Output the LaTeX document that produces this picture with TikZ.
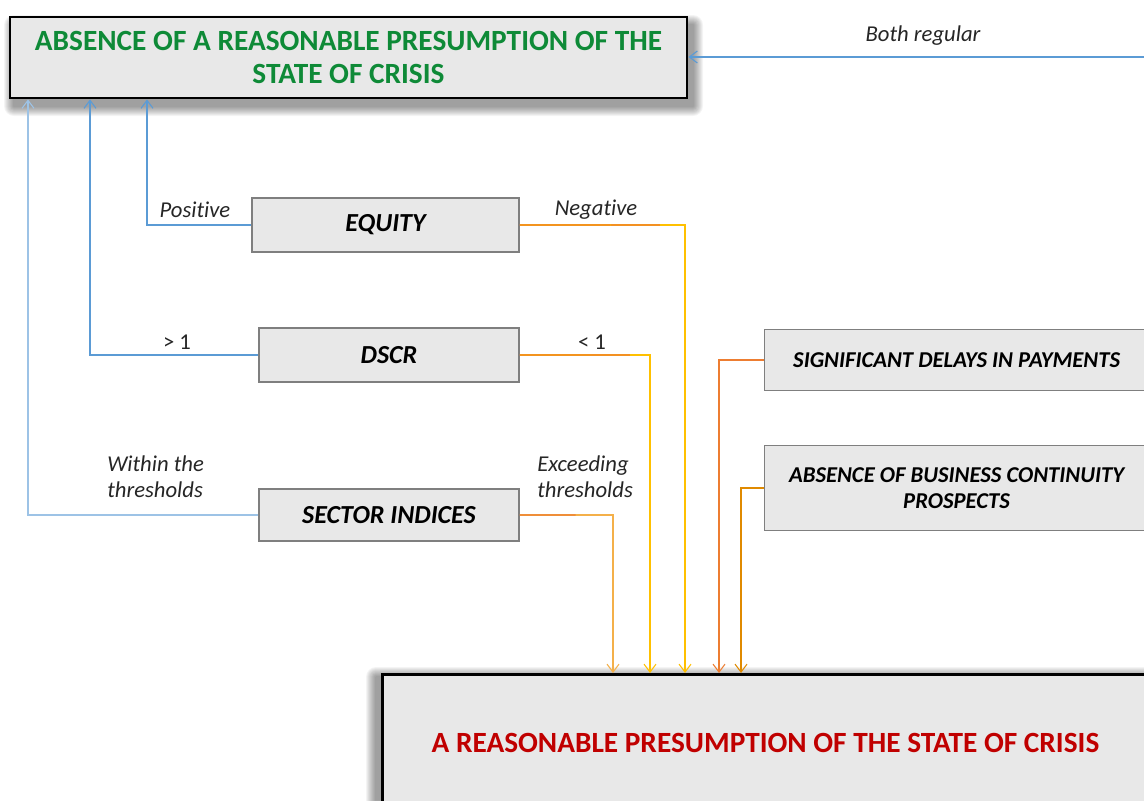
\documentclass[tikz,border=0pt]{standalone}
\usepackage{fontspec}
\setmainfont{Carlito}[Ligatures=NoCommon]
\usetikzlibrary{arrows.meta,calc}
\definecolor{boxfill}{HTML}{E8E8E8}
\definecolor{boxline}{HTML}{7F7F7F}
\definecolor{okgreen}{HTML}{0E8A37}
\definecolor{crisisred}{HTML}{C00000}
\definecolor{linkblue}{HTML}{5B9BD5}
\definecolor{linkpale}{HTML}{9DC3E6}
\definecolor{linkyellow}{HTML}{FFC000}
\definecolor{linklight}{HTML}{F4B04A}
\definecolor{linkorange}{HTML}{ED7D31}
\definecolor{linkdark}{HTML}{E08A00}
\definecolor{labeltext}{HTML}{262626}
\begin{document}
\begin{tikzpicture}[x=0.75pt,y=-0.75pt,
  bigbox/.style={draw=black,line width=2.2pt,fill=boxfill,inner sep=0pt,align=center},
  smallbox/.style={draw=boxline,line width=0.9pt,fill=boxfill,inner sep=0pt,align=center,
    font=\fontsize{19.5}{22}\selectfont\bfseries\itshape},
  sidebox/.style={smallbox,font=\fontsize{17}{20}\selectfont\bfseries\itshape},
  lab/.style={text=labeltext,font=\fontsize{17}{19.5}\selectfont\itshape,inner sep=0pt},
  labr/.style={text=labeltext,font=\fontsize{17}{19.5}\selectfont,inner sep=0pt},
  link/.style={line width=0.8pt,-{Straight Barb[length=6pt,width=9pt,line width=0.8pt]}},
  seg/.style={line width=0.8pt}
]
\clip (0,0) rectangle (1144,800);
\fill[white] (0,0) rectangle (1144,800);

% soft shadows of the two big boxes
\foreach \i in {1,...,10}{
  \fill[black,opacity=0.045,rounded corners={\i*0.75pt}]
    (14-\i,25-\i) rectangle (693+\i,106+\i);
  \fill[black,opacity=0.045,rounded corners={\i*0.75pt}]
    (376-\i,677-\i) rectangle (1160+\i,830+\i);
}

% boxes
\node[bigbox,minimum width={677*0.75pt},minimum height={81*0.75pt},
  text=okgreen,font=\fontsize{22}{24.75}\selectfont\bfseries] (top) at (348.5,57.5)
  {ABSENCE OF A REASONABLE PRESUMPTION OF THE\\STATE OF CRISIS};
\node[bigbox,minimum width={766*0.75pt},minimum height={138*0.75pt},anchor=north west,
  text=crisisred,font=\fontsize{22}{25}\selectfont\bfseries] (bottom) at (381,673)
  {A REASONABLE PRESUMPTION OF THE STATE OF CRISIS};

\node[smallbox,minimum width={267*0.75pt},minimum height={54*0.75pt}] (equity) at (385.5,225) {EQUITY};
\node[smallbox,minimum width={260*0.75pt},minimum height={54*0.75pt}] (dscr) at (389,355) {DSCR};
\node[smallbox,minimum width={260*0.75pt},minimum height={52*0.75pt}] (sector) at (389,515) {SECTOR INDICES};
\node[sidebox,minimum width={384*0.75pt},minimum height={61*0.75pt},anchor=north west] (delays) at (764,329)
  {SIGNIFICANT DELAYS IN PAYMENTS};
\node[sidebox,minimum width={384*0.75pt},minimum height={85*0.75pt},anchor=north west,
  font=\fontsize{17}{19.5}\selectfont\bfseries\itshape] (continuity) at (764,445)
  {ABSENCE OF BUSINESS CONTINUITY\\PROSPECTS};

% x positions of the connector drops
\coordinate (xb1) at (147,0);
\coordinate (xb2) at (90,0);
\coordinate (xb3) at (28,0);
\coordinate (xo1) at (685,0);
\coordinate (xo2) at (650,0);
\coordinate (xo3) at (613,0);
\coordinate (xo4) at (719,0);
\coordinate (xo5) at (741,0);
\coordinate (yd) at (0,360);
\coordinate (yc) at (0,488);
\coordinate (rightin) at (1150,57);

% blue connectors
\draw[link,linkblue] (rightin) -- (top.east |- rightin);
\draw[link,linkblue] (equity.west) -| (top.south -| xb1);
\draw[link,linkblue] (dscr.west) -| (top.south -| xb2);
\draw[link,linkpale] (sector.west) -| (top.south -| xb3);

% orange connectors
\draw[link,linkyellow] (equity.east) -| (bottom.north -| xo1);
\draw[link,linkyellow] (dscr.east) -| (bottom.north -| xo2);
\draw[link,linklight] (sector.east) -| (bottom.north -| xo3);
\draw[link,linkorange] (delays.west |- yd) -| (bottom.north -| xo4);
\draw[link,linkdark] (continuity.west |- yc) -| (bottom.north -| xo5);
\draw[seg,linkorange] (equity.east) -- ($(equity.east)!0.55!(equity.east -| xo1)$);
\draw[seg,linkorange!70!linkyellow] ($(equity.east)!0.55!(equity.east -| xo1)$) -- ($(equity.east)!0.85!(equity.east -| xo1)$);
\draw[seg,linkorange] (dscr.east) -- ($(dscr.east)!0.55!(dscr.east -| xo2)$);
\draw[seg,linkorange!70!linkyellow] ($(dscr.east)!0.55!(dscr.east -| xo2)$) -- ($(dscr.east)!0.85!(dscr.east -| xo2)$);
\draw[seg,linkorange] (sector.east) -- ($(sector.east)!0.6!(sector.east -| xo3)$);

% labels
\node[lab] (lb) at (923,36) {Both regular};
\node[lab] (lpos) at (195,210) {Positive};
\node[lab] (lneg) at (596,210) {Negative};
\node[labr] (lgt) at (177,342) {> 1};
\node[labr] (llt) at (592,342) {< 1};
\node[lab,align=left,anchor=west] (lwithin) at (107,477) {Within the\\thresholds};
\node[lab,align=left,anchor=west] (lexceed) at (537,477) {Exceeding\\thresholds};
\end{tikzpicture}
\end{document}
